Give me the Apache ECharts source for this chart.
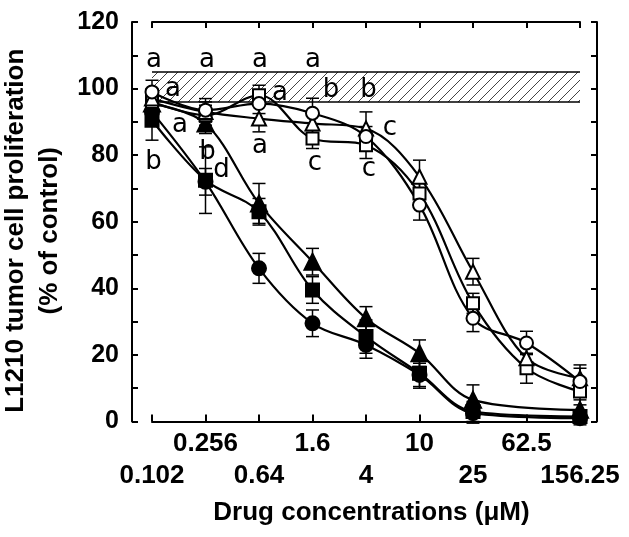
<!DOCTYPE html>
<html><head><meta charset="utf-8">
<script src="https://cdn.jsdelivr.net/npm/echarts@6/dist/echarts.min.js"></script>
<style>html,body{margin:0;padding:0;background:#fff}#c{width:629px;height:537px}</style>
</head><body><div id="c"></div>
<script>
// ---------- data ----------
const concentrations = ['0.102','0.256','0.64','1.6','4','10','25','62.5','156.25'];
const yMin = 0, yMax = 120, yStep = 20;

const openCircle       = [99, 93.5, 95.5, 92.6, 85.6, 65, 31, 23.6, 12];
const openCircleErr    = [3.5, 3.5, 3, 4.5, 3, 4.5, 4, 3.5, 4];
const openTriangle     = [97, 93, 91, 89.5, 88, 73.5, 45, 19, 13];
const openTriangleErr  = [3, 3, 4, 3, 5, 5, 4, 3.5, 4];
const openSquare       = [96, 92, 98, 85, 83, 68.5, 35.5, 16, 9];
const openSquareErr    = [3, 3, 3, 3, 4, 3.5, 3, 4.5, 4];
const filledCircle     = [93, 72, 46, 29.5, 23, 14, 2.5, null, 1];
const filledCircleErr  = [3, 4, 4.5, 4, 4, 3.5, 3, null, 2];
const filledSquare     = [90.5, 72.5, 63, 39.5, 25.5, 14.5, 3, null, 1.5];
const filledSquareErr  = [6, 10, 4, 4, 5, 4.5, 3, null, 2];
const filledTriangle   = [95.5, 89.5, 65.5, 48, 31, 20.5, 6.5, null, 3.5];
const filledTriangleErr= [3, 3, 6, 4, 3.5, 4, 4.5, null, 3];

const controlBandLow = 96, controlBandHigh = 105;

const letterText     = ['a','a','a','a','a','a','b','b','c','c','c','a','b','a','b','d'];
const letterCategory = [0,1,2,3,0,2,3,4,4,3,4,2,0,0,1,1];
const letterValue    = [108.4,108.4,108.4,108.4,99.7,98.6,99.4,99.4,88,77.5,75.7,82.6,77.8,89,80.8,75.5];
// layout only: horizontal pixel offsets of the letters
const letterDx       = [2,1.5,1,0.5,21,21,18.5,2.5,24,2.5,3,1,1.5,28,2,16];

// ---------- styles ----------
const FONT = 'Liberation Sans';
const LETTER_FONT = 'DejaVu Sans';
const INK = '#000';

const pc = document.createElement('canvas'); pc.width = 10; pc.height = 10;
const g = pc.getContext('2d'); g.strokeStyle = '#444'; g.lineWidth = 1;
g.beginPath(); g.moveTo(0,10); g.lineTo(10,0); g.moveTo(-5,5); g.lineTo(5,-5); g.moveTo(5,15); g.lineTo(15,5); g.stroke();

const seriesDefs = [
  {name:'filledSquare', v:filledSquare, e:filledSquareErr, symbol:'rect', size:13, fill:INK},
  {name:'filledCircle', v:filledCircle, e:filledCircleErr, symbol:'circle', size:14, fill:INK},
  {name:'filledTriangle', v:filledTriangle, e:filledTriangleErr, symbol:'triangle', size:16, fill:INK},
  {name:'openSquare', v:openSquare, e:openSquareErr, symbol:'rect', size:12, fill:'#fff'},
  {name:'openTriangle', v:openTriangle, e:openTriangleErr, symbol:'triangle', size:14, fill:'#fff'},
  {name:'openCircle', v:openCircle, e:openCircleErr, symbol:'circle', size:13, fill:'#fff'}
];

const errData = [];
seriesDefs.forEach(s => s.v.forEach((y, i) => { if (y != null) errData.push([i, y - s.e[i], y + s.e[i]]); }));

const series = [];
seriesDefs.forEach((s, k) => {
  const ser = {
    type:'line', xAxisIndex:1, yAxisIndex:2, data:s.v, smooth:0.35, connectNulls:true,
    showSymbol:false, z:2, silent:true,
    lineStyle:{color:INK, width:2.2}
  };
  if (k === 0) {
    ser.markArea = {silent:true, itemStyle:{color:{image:pc, repeat:'repeat'}, borderWidth:0},
      data:[[{coord:[concentrations[0], controlBandLow]},{coord:[concentrations[8], controlBandHigh]}]]};
    ser.markLine = {silent:true, symbol:'none', label:{show:false},
      lineStyle:{color:INK, width:1.5, type:'solid'},
      data:[[{coord:[concentrations[0], controlBandHigh]},{coord:[concentrations[8], controlBandHigh]}],
            [{coord:[concentrations[0], controlBandLow]},{coord:[concentrations[8], controlBandLow]}]]};
  }
  series.push(ser);
});
series.push({
  type:'custom', xAxisIndex:1, yAxisIndex:2, z:3, silent:true, data:errData,
  encode:{x:0, y:[1,2]},
  renderItem(params, api){
    const x = api.value(0);
    const lo = api.coord([x, api.value(1)]), hi = api.coord([x, api.value(2)]);
    const w = 6.5, st = {stroke:INK, lineWidth:1.5};
    return {type:'group', children:[
      {type:'line', shape:{x1:lo[0], y1:lo[1], x2:hi[0], y2:hi[1]}, style:st},
      {type:'line', shape:{x1:lo[0]-w, y1:lo[1], x2:lo[0]+w, y2:lo[1]}, style:st},
      {type:'line', shape:{x1:hi[0]-w, y1:hi[1], x2:hi[0]+w, y2:hi[1]}, style:st}
    ]};
  }
});
seriesDefs.forEach((s, k) => {
  series.push({
    type:'scatter', xAxisIndex:1, yAxisIndex:2, z:4 + k, silent:true,
    data:s.v.map((y, i) => y == null ? null : [i, y]),
    symbol:s.symbol, symbolSize:s.size,
    itemStyle:{color:s.fill, borderColor:INK, borderWidth:2, opacity:1}
  });
});
series.push({
  type:'scatter', xAxisIndex:1, yAxisIndex:2, z:20, silent:true, symbolSize:0,
  itemStyle:{opacity:1},
  data:letterText.map((t, i) => ({value:[letterCategory[i], letterValue[i]], name:t,
        label:{offset:[letterDx[i], 0]}})),
  label:{show:true, position:'inside', formatter:p => p.name, fontFamily:LETTER_FONT, fontSize:26,
         color:INK, opacity:1, verticalAlign:'middle', align:'center'}
});

const chart = echarts.init(document.getElementById('c'), null, {renderer:'canvas'});
chart.setOption({
  animation:false,
  backgroundColor:'#fff',
  grid:[
    {left:132, right:32, top:22, bottom:115.5, containLabel:false, outerBoundsMode:'none'},
    {left:152, right:49, top:22, bottom:115.5, containLabel:false, outerBoundsMode:'none'}
  ],
  xAxis:[
    {gridIndex:0, type:'value', min:0, max:1, show:false},
    {gridIndex:1, type:'category', data:concentrations, boundaryGap:false, position:'bottom',
     axisLine:{lineStyle:{color:INK, width:2}},
     axisTick:{inside:true, length:7, interval:0, lineStyle:{color:INK, width:2}},
     axisLabel:{interval:0, margin:6, fontFamily:FONT, fontWeight:'bold', fontSize:26, color:INK, lineHeight:32.5,
       formatter:(v, i) => (i % 2 === 0 ? '\n' + v : v)},
     name:'Drug concentrations (μM)', nameLocation:'middle', nameGap:74,
     nameTextStyle:{fontFamily:FONT, fontWeight:'bold', fontSize:26, color:INK, lineHeight:30, padding:[0,0,0,11]}},
    {gridIndex:1, type:'category', data:concentrations, boundaryGap:false, position:'top',
     axisLine:{lineStyle:{color:INK, width:2}},
     axisTick:{inside:true, length:6, interval:0, lineStyle:{color:INK, width:2}},
     axisLabel:{show:false}}
  ],
  yAxis:[
    {gridIndex:0, type:'value', min:yMin, max:yMax, interval:yStep, position:'left',
     splitLine:{show:false},
     axisLine:{show:true, lineStyle:{color:INK, width:2}},
     axisTick:{show:true, inside:true, length:6, lineStyle:{color:INK, width:2}},
     minorTick:{show:true, splitNumber:2, length:6, lineStyle:{color:INK, width:2}},
     axisLabel:{margin:13, fontFamily:FONT, fontWeight:'bold', fontSize:25, color:INK, padding:[6,0,0,0]},
     name:'L1210 tumor cell proliferation\n(% of control)', nameLocation:'middle', nameRotate:90, nameGap:52,
     nameTextStyle:{fontFamily:FONT, fontWeight:'bold', fontSize:26, color:INK, lineHeight:34, padding:[0,18,0,0]}},
    {gridIndex:0, type:'value', min:yMin, max:yMax, interval:yStep, position:'right',
     splitLine:{show:false},
     axisLine:{show:true, lineStyle:{color:INK, width:2}},
     axisTick:{show:true, inside:true, length:6, lineStyle:{color:INK, width:2}},
     minorTick:{show:true, splitNumber:2, length:6, lineStyle:{color:INK, width:2}},
     axisLabel:{show:false}},
    {gridIndex:1, type:'value', min:yMin, max:yMax, show:false}
  ],
  series
});
</script></body></html>
